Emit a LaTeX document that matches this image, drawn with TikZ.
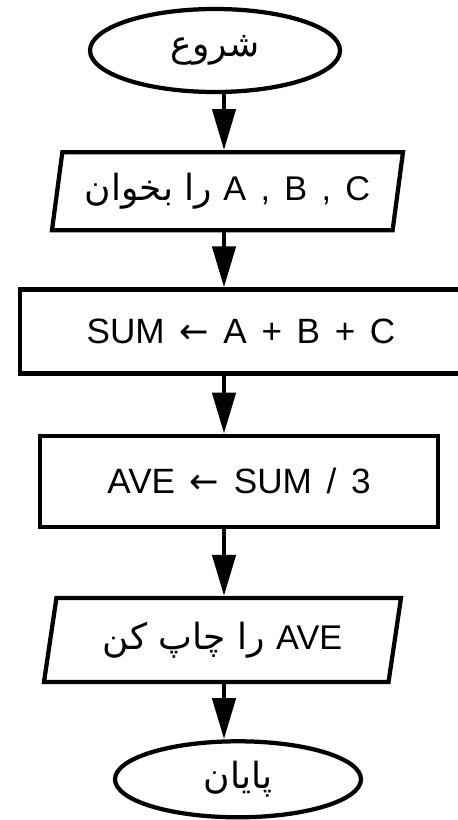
\documentclass[tikz,border=0pt]{standalone}
\usepackage{fontspec}
\setmainfont{Liberation Sans}[WordSpace=1.5]
\newfontfamily\faFont[Script=Arabic]{DejaVu Sans}
\newfontfamily\symFont{DejaVu Sans}
\TeXXeTstate=1
\usetikzlibrary{shapes.geometric, arrows.meta, positioning}

\newcommand{\faText}[1]{{\fontsize{20.5}{24}\faFont\beginR #1\endR}}
\newcommand{\assignArrow}{{\symFont ←}}

\begin{document}
\begin{tikzpicture}[
  node distance=1.1cm,
  terminal/.style={ellipse, draw, line width=0.085cm, inner sep=0pt, font=\fontsize{19}{22}\selectfont},
  io/.style={trapezium, trapezium stretches body, draw, line width=0.085cm, inner sep=0pt, font=\fontsize{19}{22}\selectfont},
  process/.style={rectangle, draw, line width=0.085cm, inner sep=0pt, font=\fontsize{20}{24}\selectfont},
  arrow/.style={-{Triangle[length=0.82cm, width=0.46cm]}, line width=0.09cm}
]
  \useasboundingbox (0,0) rectangle (9.14,-16.4);

  % Start
  \node[terminal, minimum width=5.0cm, minimum height=1.66cm] (start) at (4.30,-1.01) {\faText{شروع}};

  % Read A, B, C
  \node[io, trapezium left angle=74, trapezium right angle=106, minimum width=7.02cm, minimum height=1.56cm, below=1.12cm of start, xshift=0.25cm] (read) {\faText{\beginL{\rmfamily\fontsize{19.5}{22}\selectfont A , B , C}\endL{} را بخوان}\hspace{0.5cm}};

  % Sum
  \node[process, minimum width=8.84cm, minimum height=1.68cm, below=1.1cm of read, xshift=0.27cm] (sum) {SUM \assignArrow{} A + B + C};

  % Average
  \node[process, minimum width=7.96cm, minimum height=1.82cm, below=1.16cm of sum, xshift=-0.04cm] (ave) {AVE \assignArrow{} SUM / 3};

  % Print
  \node[io, trapezium left angle=71, trapezium right angle=109, minimum width=7.14cm, minimum height=1.68cm, below=1.34cm of ave, xshift=-0.33cm] (print) {\faText{\beginL{\rmfamily\fontsize{19.5}{22}\selectfont AVE}\endL{} را چاپ کن}};

  % Stop
  \node[terminal, minimum width=4.92cm, minimum height=1.52cm, below=1.1cm of print, xshift=0.31cm] (stop) {\faText{پایان}};

  % Flow
  \coordinate (axis) at (4.48,0);
  \draw[arrow] (start.south -| axis) -- (read.north -| axis);
  \draw[arrow] (read.south -| axis) -- (sum.north -| axis);
  \draw[arrow] (sum.south -| axis) -- (ave.north -| axis);
  \draw[arrow] (ave.south -| axis) -- (print.north -| axis);
  \draw[arrow] (print.south -| axis) -- (stop.north -| axis);
\end{tikzpicture}
\end{document}
